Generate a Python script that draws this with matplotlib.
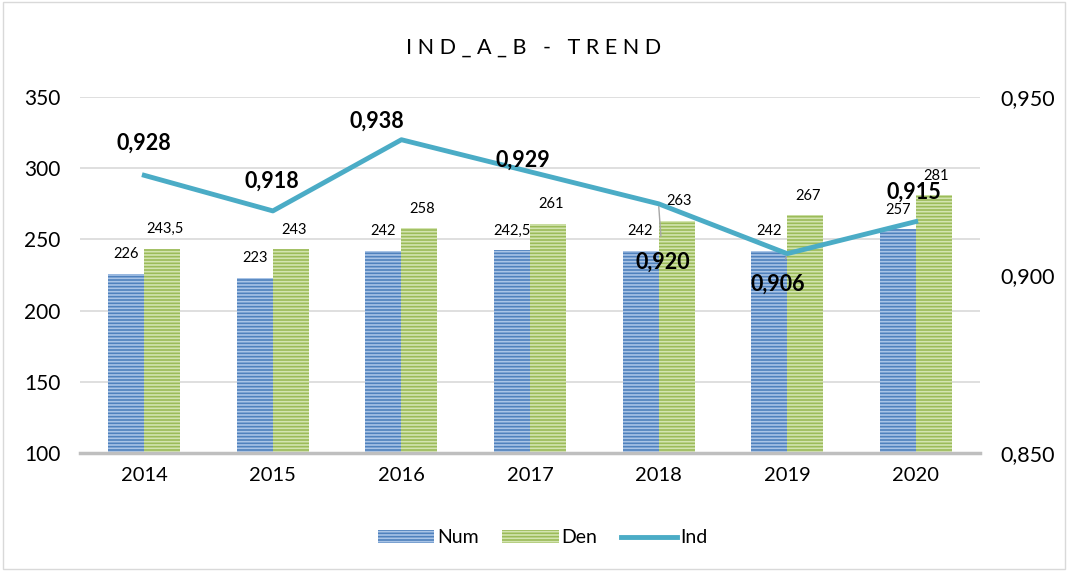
import matplotlib.pyplot as plt
import matplotlib.patches as mpatches
import matplotlib.lines as mlines
import numpy as np

plt.rcParams['font.family'] = ['Lato', 'DejaVu Sans']
plt.rcParams['hatch.linewidth'] = 1.2

# data
years = ['2014', '2015', '2016', '2017', '2018', '2019', '2020']
num = [226, 223, 242, 242.5, 242, 242, 257]
den = [243.5, 243, 258, 261, 263, 267, 281]
ind = [0.928, 0.918, 0.938, 0.929, 0.920, 0.906, 0.915]


def fmt(v, dec=None):
    if dec is None:
        s = f'{v:g}'
    else:
        s = f'{v:.{dec}f}'
    return s.replace('.', ',')


fig = plt.figure(figsize=(10.68, 5.71), dpi=100)
ax = fig.add_axes([80 / 1068, 118 / 571, 900 / 1068, 356 / 571])
ax2 = ax.twinx()

x = np.arange(len(years))
w = 0.28
ax.bar(x - w / 2, num, w, bottom=0, color='#4f81bd', edgecolor='#a9c4e6',
       hatch='-----', linewidth=0, zorder=2)
ax.bar(x + w / 2, den, w, bottom=0, color='#9bbb59', edgecolor='#d3e4b0',
       hatch='-----', linewidth=0, zorder=2)

ax.set_ylim(100, 350)
ax.set_xlim(-0.5, len(years) - 0.5)
ax.set_yticks(range(100, 351, 50))
ax.set_xticks(x)
ax.set_xticklabels(years)
ax.grid(axis='y', color='#d9d9d9', linewidth=1.2, zorder=0)
ax.set_axisbelow(True)
for sp in ['top', 'right', 'left']:
    ax.spines[sp].set_visible(False)
    ax2.spines[sp].set_visible(False)
ax.spines['bottom'].set_color('#bfbfbf')
ax.spines['bottom'].set_linewidth(2.5)
ax2.spines['bottom'].set_visible(False)
ax.tick_params(axis='y', length=0, labelsize=15, pad=14)
ax.tick_params(axis='x', length=0, labelsize=14.5, pad=10)

# bar value labels, centred over each bar
for i in range(len(years)):
    ax.annotate(fmt(num[i]), (x[i] - w / 2, num[i]), xytext=(0, 14),
                textcoords='offset points', ha='center', va='center', fontsize=10.5)
    ax.annotate(fmt(den[i]), (x[i] + w / 2, den[i]), xytext=(2, 14),
                textcoords='offset points', ha='center', va='center', fontsize=10.5)

ax2.plot(x, ind, color='#4bacc6', linewidth=3.5, zorder=3)
ax2.set_ylim(0.85, 0.95)
ax2.set_yticks([0.85, 0.90, 0.95])
ax2.set_yticklabels([fmt(v, 3) for v in [0.85, 0.90, 0.95]])
ax2.tick_params(axis='y', length=0, labelsize=15.5, pad=15)

# label offsets in points for the Ind values
offs = [(0, 23), (-1, 21.5), (-18, 13), (-5, 8), (3, -42), (-6.5, -22), (-1.5, 21)]
for i, v in enumerate(ind):
    dx, dy = offs[i]
    lead = i in (4, 5)
    ax2.annotate(fmt(v, 3), (x[i], v), xytext=(dx, dy), textcoords='offset points',
                 ha='center', va='center', fontsize=15.5, fontweight='bold', zorder=5,
                 arrowprops=dict(arrowstyle='-', color='#a6a6a6', lw=1,
                                 shrinkA=9, shrinkB=2) if lead else None)

fig.text(0.500, 0.917, 'I N D _ A _ B   -   T R E N D', ha='center', va='center',
         fontsize=15.5)

h1 = mpatches.Patch(facecolor='#4f81bd', edgecolor='#a9c4e6', hatch='-----', linewidth=0)
h2 = mpatches.Patch(facecolor='#9bbb59', edgecolor='#d3e4b0', hatch='-----', linewidth=0)
h3 = mlines.Line2D([], [], color='#4bacc6', linewidth=3.5)
fig.legend([h1, h2, h3], ['Num', 'Den', 'Ind'], loc='center', bbox_to_anchor=(0.508, 0.058),
           ncol=3, frameon=False, fontsize=14, handlelength=2.9, handletextpad=0.15,
           columnspacing=1.2)

fig.add_artist(mpatches.Rectangle((0.003, 0.004), 0.994, 0.992, transform=fig.transFigure,
                                  fill=False, edgecolor='#d9d9d9', linewidth=1))

fig.savefig('out.png', dpi=100)
